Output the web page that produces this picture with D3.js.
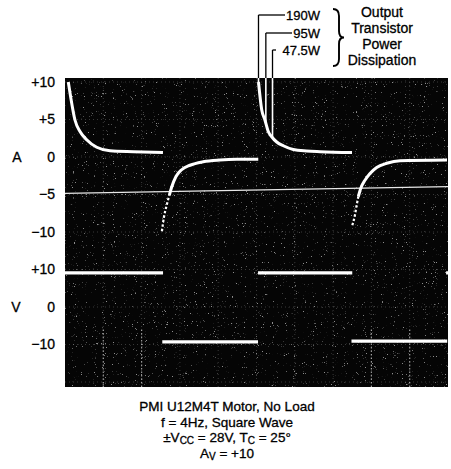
<!DOCTYPE html>
<html><head><meta charset="utf-8">
<script src="https://cdn.jsdelivr.net/npm/d3@7/dist/d3.min.js"></script>
<style>
body{margin:0;background:#fff;}
svg{display:block;}
text{font-family:"Liberation Sans",Arial,Helvetica,sans-serif;fill:#000;stroke:#000;stroke-width:0.3px;}
</style>
</head><body>
<svg id="c" width="451" height="469"></svg>
<script>
// ---------------- data ----------------
const currentTicks = [10, 5, 0, -5, -10];
const currentTickLabels = ["+10", "+5", "0", "\u22125", "\u221210"];
const voltageTicks = [10, 0, -10];
const voltageTickLabels = ["+10", "0", "\u221210"];
const timeGrid = [50, 100, 150, 200, 250, 300, 350, 400, 450];   // ms (50 ms/div)
const brightGrid = [50, 100, 400, 450];                            // graticule lines visible near the bottom

// current trace (A) vs time (ms)
const posPulse1Time = [4.3, 7.4, 13.1, 19.6, 28.3, 41.4, 58.7, 89.2, 127.9];
const posPulse1Amps = [10.0, 8.0, 4.9, 3.4, 2.3, 1.3, 0.84, 0.71, 0.6];
const negPulse1Time = [126.5, 129.2, 132.8, 136.2, 139.3, 144.9, 152.3, 163.2, 180.5, 202.3, 224.1, 252.3];
const negPulse1Amps = [-9.9, -8.0, -6.4, -5.1, -4.0, -2.6, -1.7, -1.1, -0.63, -0.4, -0.31, -0.31];
const posPulse2Time = [252.6, 256.8, 261.1, 265.4, 269.8, 276.4, 285, 298, 315.5, 332.9, 374.7];
const posPulse2Amps = [10.0, 6.3, 4.9, 3.4, 2.7, 2.0, 1.5, 1.0, 0.8, 0.71, 0.6];
const negPulse2Time = [375.1, 378.6, 380.8, 382.9, 386, 391.6, 398.2, 406.9, 420, 437.3, 498.7];
const negPulse2Amps = [-9.1, -7.7, -6.4, -5.3, -4.2, -3.1, -2.2, -1.4, -0.84, -0.49, -0.4];

// reference trace near -5 A
const refTime = [0, 500];
const refAmps = [-4.85, -3.95];

// voltage square wave (V)
const voltStart = [0, 127, 252, 374, 497.5];
const voltEnd = [128, 252, 375, 499, 500];
const voltLevel = [9.1, -9.3, 9.1, -9.1, 9.1];

// output transistor power dissipation annotations
const powerLabels = ["190W", "95W", "47.5W"];
const powerTimes = [252.6, 262.2, 270.9];
const legendTitle = ["Output", "Transistor", "Power", "Dissipation"];

const captionLines = [
  [["PMI U12M4T Motor, No Load", false]],
  [["f = 4Hz, Square Wave", false]],
  [["\u00B1V", false], ["CC", true], [" = 28V, T", false], ["C", true], [" = 25\u00B0", false]],
  [["A", false], ["V", true], [" = +10", false]]
];

// ---------------- layout ----------------
const svg = d3.select("#c");
const plot = {x0: 65, x1: 448, y0: 78, y1: 387};
const x = d3.scaleLinear().domain([0, 500]).range([plot.x0, plot.x1]);
const yA = d3.scaleLinear().domain([10, -10]).range([82, 232]);
const yV = d3.scaleLinear().domain([10, -10]).range([269.5, 344.5]);

const defs = svg.append("defs");
const f = defs.append("filter").attr("id", "grain").attr("x", 0).attr("y", 0).attr("width", "100%").attr("height", "100%");
f.append("feTurbulence").attr("type", "fractalNoise").attr("baseFrequency", 0.9).attr("numOctaves", 2).attr("seed", 7).attr("result", "n");
f.append("feColorMatrix").attr("in", "n").attr("type", "matrix")
  .attr("values", "0 0 0 0 1  0 0 0 0 1  0 0 0 0 1  10 0 0 0 -6.95");
defs.append("clipPath").attr("id", "pc").append("rect")
  .attr("x", plot.x0).attr("y", plot.y0).attr("width", plot.x1 - plot.x0).attr("height", plot.y1 - plot.y0);

// scope screen
svg.append("rect").attr("x", plot.x0).attr("y", plot.y0)
  .attr("width", plot.x1 - plot.x0).attr("height", plot.y1 - plot.y0).attr("fill", "#050505");
svg.append("rect").attr("x", plot.x0).attr("y", plot.y0)
  .attr("width", plot.x1 - plot.x0).attr("height", plot.y1 - plot.y0)
  .attr("fill", "#fff").attr("filter", "url(#grain)").attr("opacity", 0.55);

const g = svg.append("g").attr("clip-path", "url(#pc)");

// graticule
const gridStyle = s => s.attr("stroke", "#9a9a9a").attr("stroke-width", 1)
  .attr("stroke-dasharray", "1 3").attr("opacity", 0.35);
g.selectAll("line.vg").data(timeGrid).join("line").attr("class", "vg")
  .attr("x1", d => x(d)).attr("x2", d => x(d)).attr("y1", plot.y0).attr("y2", plot.y1).call(gridStyle);
const hGrid = currentTicks.map(d => yA(d)).concat(voltageTicks.map(d => yV(d)), [yV(-20)]);
g.selectAll("line.hg").data(hGrid).join("line").attr("class", "hg")
  .attr("x1", plot.x0).attr("x2", plot.x1).attr("y1", d => d).attr("y2", d => d).call(gridStyle);
g.selectAll("line.bg").data(brightGrid).join("line").attr("class", "bg")
  .attr("x1", d => x(d)).attr("x2", d => x(d)).attr("y1", yV(-6)).attr("y2", plot.y1)
  .attr("stroke", "#d0d0d0").attr("stroke-width", 1.2).attr("stroke-dasharray", "1.5 2").attr("opacity", 0.7);

// reference trace
const lineA = d3.line().x(d => x(d[0])).y(d => yA(d[1]));
g.append("path").datum(d3.zip(refTime, refAmps)).attr("d", lineA)
  .attr("fill", "none").attr("stroke", "#e8e8e8").attr("stroke-width", 1.4);

// current traces
const curveA = d3.line().x(d => x(d[0])).y(d => yA(d[1])).curve(d3.curveMonotoneX);
function trace(times, amps) {
  const pts = d3.zip(times, amps);
  const k = pts.findIndex(p => p[1] > -5.5);
  if (amps[0] < -5.5 && k > 0) {
    g.append("path").datum(pts.slice(0, k + 1)).attr("d", curveA)
      .attr("fill", "none").attr("stroke", "#fff").attr("stroke-width", 2.2)
      .attr("stroke-dasharray", "2.5 2");
    g.append("path").datum(pts.slice(k)).attr("d", curveA)
      .attr("fill", "none").attr("stroke", "#fff").attr("stroke-width", 3);
  } else {
    g.append("path").datum(pts).attr("d", curveA)
      .attr("fill", "none").attr("stroke", "#fff").attr("stroke-width", 3);
  }
}
trace(posPulse1Time, posPulse1Amps);
trace(negPulse1Time, negPulse1Amps);
trace(posPulse2Time, posPulse2Amps);
trace(negPulse2Time, negPulse2Amps);

// voltage trace
g.selectAll("line.v").data(d3.range(voltLevel.length)).join("line").attr("class", "v")
  .attr("x1", i => x(voltStart[i])).attr("x2", i => x(voltEnd[i]))
  .attr("y1", i => yV(voltLevel[i])).attr("y2", i => yV(voltLevel[i]))
  .attr("stroke", "#fff").attr("stroke-width", 3.4);

// axes
function axis(scale, ticks, labels) {
  const ax = svg.append("g").attr("transform", `translate(${plot.x0},0)`)
    .call(d3.axisLeft(scale).tickValues(ticks).tickFormat((d, i) => labels[i]).tickSize(0).tickPadding(10));
  ax.select(".domain").remove();
  ax.attr("font-family", "Liberation Sans, Arial, sans-serif").attr("font-size", 14);
  ax.selectAll("text").style("fill", "#000");
}
axis(yA, currentTicks, currentTickLabels);
axis(yV, voltageTicks, voltageTickLabels);
svg.append("text").attr("x", 17).attr("y", yA(0)).attr("dy", "0.35em").attr("text-anchor", "middle")
  .attr("font-size", 14).text("A");
svg.append("text").attr("x", 16).attr("y", yV(0)).attr("dy", "0.35em").attr("text-anchor", "middle")
  .attr("font-size", 14).text("V");

// power annotations
const interp = (t) => {
  const i = d3.bisectRight(posPulse2Time, t);
  if (i <= 0) return posPulse2Amps[0];
  const t0 = posPulse2Time[i - 1], t1 = posPulse2Time[i];
  return posPulse2Amps[i - 1] + (posPulse2Amps[i] - posPulse2Amps[i - 1]) * (t - t0) / (t1 - t0);
};
const rowY = [15, 33, 50];
const rowX2 = [285, 292, 276];
powerLabels.forEach((lab, i) => {
  const lx = x(powerTimes[i]);
  svg.append("line").attr("x1", lx).attr("x2", rowX2[i]).attr("y1", rowY[i]).attr("y2", rowY[i])
    .attr("stroke", "#000").attr("stroke-width", 1.3);
  svg.append("line").attr("x1", lx).attr("x2", lx).attr("y1", rowY[i]).attr("y2", plot.y0)
    .attr("stroke", "#000").attr("stroke-width", 1.3);
  svg.append("line").attr("x1", lx).attr("x2", lx).attr("y1", plot.y0).attr("y2", yA(Math.min(10, interp(powerTimes[i]))))
    .attr("stroke", "#fff").attr("stroke-width", 1.6);
  svg.append("text").attr("x", 320).attr("y", rowY[i]).attr("dy", "0.35em")
    .attr("text-anchor", "end").attr("font-size", 13).text(lab);
});
svg.append("path")
  .attr("d", "M333,9 Q339,9 339,16 L339,31 Q339,37.5 344,37.5 Q339,37.5 339,44 L339,59 Q339,66 333,66")
  .attr("fill", "none").attr("stroke", "#000").attr("stroke-width", 1.9);
svg.selectAll("text.lt").data(legendTitle).join("text").attr("class", "lt")
  .attr("x", 382).attr("y", (d, i) => 17 + i * 16).attr("text-anchor", "middle")
  .attr("font-size", 14).text(d => d);

// caption
captionLines.forEach((parts, li) => {
  const t = svg.append("text").attr("x", 227).attr("y", 411 + li * 15.7)
    .attr("text-anchor", "middle").attr("font-size", 13.5);
  let prevSub = false;
  parts.forEach(([s, sub]) => {
    const ts = t.append("tspan").text(s);
    if (sub) { ts.attr("font-size", 10).attr("dy", 2); }
    else if (prevSub) { ts.attr("dy", -2); }
    prevSub = sub;
  });
});
</script>
</body></html>
